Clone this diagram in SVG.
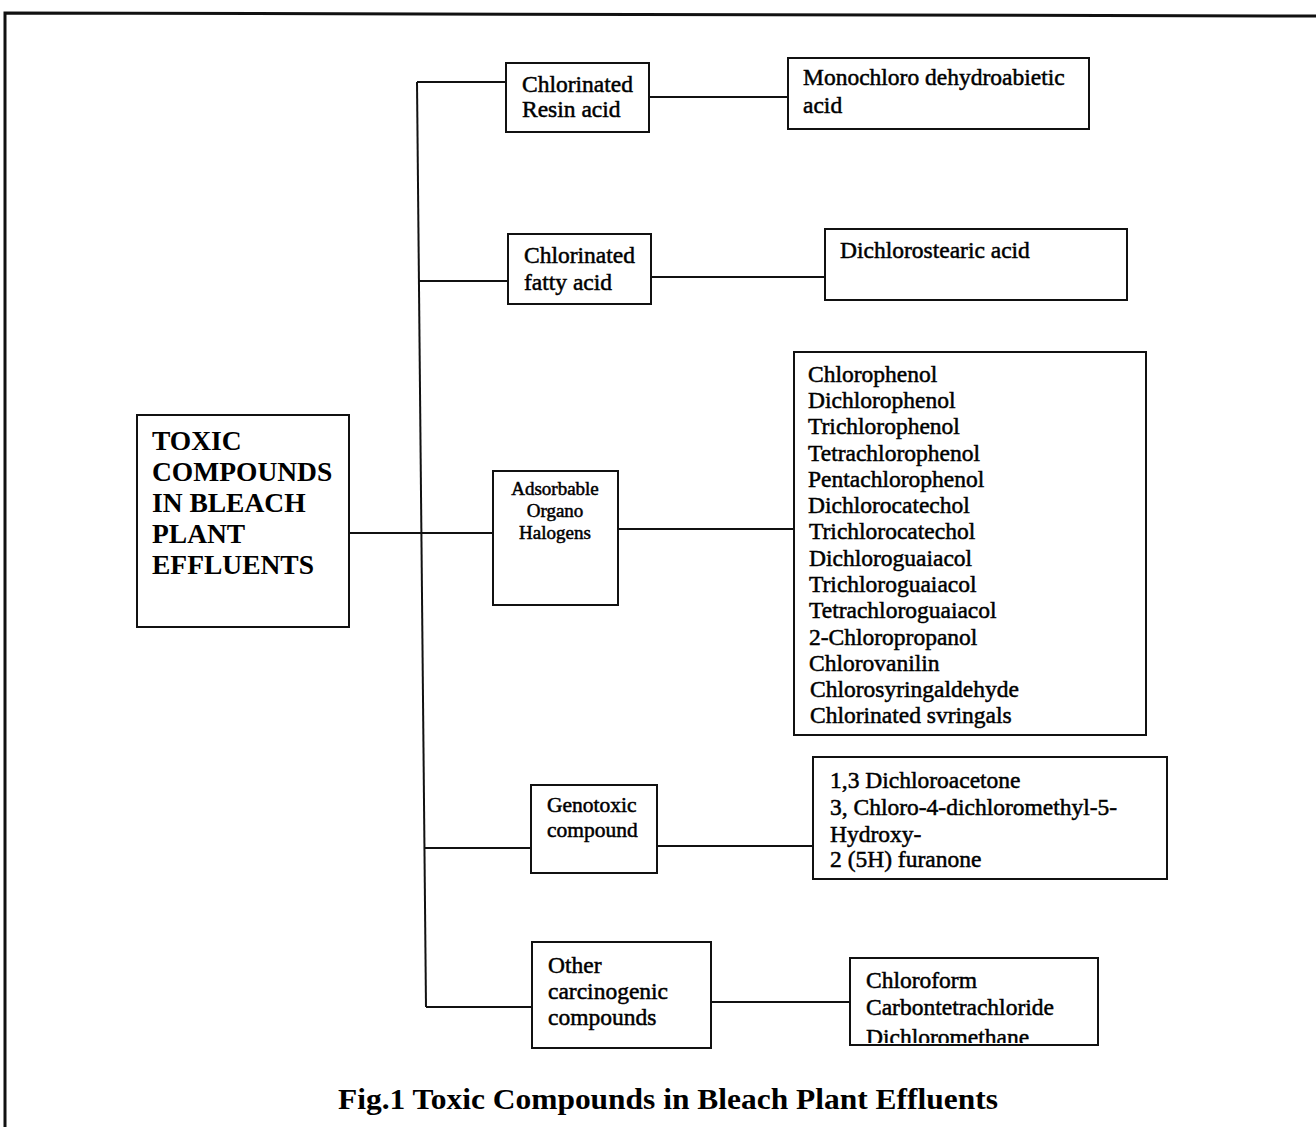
<svg xmlns="http://www.w3.org/2000/svg" width="1316" height="1127" viewBox="0 0 1316 1127">
<style>
.box{fill:#fff;stroke:#111;stroke-width:2}
.ln{fill:none;stroke:#111;stroke-width:2}
.t{font-family:"Liberation Serif","Times New Roman",serif;font-size:23.5px;fill:#000;stroke:#000;stroke-width:0.5}
.s{font-size:19px;text-anchor:middle}
.g{font-size:21.5px}
.title{font-family:"Liberation Serif","Times New Roman",serif;font-size:27.5px;font-weight:bold;fill:#000}
.cap{font-family:"Liberation Serif","Times New Roman",serif;font-size:30px;font-weight:bold;fill:#000}
</style>
<defs>
<clipPath id="clipList"><rect x="796" y="353" width="350" height="381"/></clipPath>
<clipPath id="clipChl"><rect x="851" y="959" width="246" height="84"/></clipPath>
</defs>
<rect width="1316" height="1127" fill="#fff"/>
<g id="frame">
<path d="M5,1127 L5,13 L1316,16" fill="none" stroke="#111" stroke-width="3"/>
</g>
<g id="connectors">
<line class="ln" x1="417" y1="82" x2="426" y2="1007"/>
<line class="ln" x1="417" y1="82" x2="506" y2="82"/>
<line class="ln" x1="418" y1="281" x2="508" y2="281"/>
<line class="ln" x1="349" y1="533" x2="493" y2="533"/>
<line class="ln" x1="425" y1="848" x2="531" y2="848"/>
<line class="ln" x1="426" y1="1007" x2="532" y2="1007"/>
<line class="ln" x1="649" y1="97" x2="788" y2="97"/>
<line class="ln" x1="651" y1="277" x2="825" y2="277"/>
<line class="ln" x1="618" y1="529" x2="794" y2="529"/>
<line class="ln" x1="657" y1="846" x2="813" y2="846"/>
<line class="ln" x1="711" y1="1002" x2="850" y2="1002"/>
</g>
<g id="root">
<rect class="box" x="137" y="415" width="212" height="212"/>
<text class="title" x="152" y="450">TOXIC</text>
<text class="title" x="152" y="481">COMPOUNDS</text>
<text class="title" x="152" y="512">IN BLEACH</text>
<text class="title" x="152" y="543">PLANT</text>
<text class="title" x="152" y="574">EFFLUENTS</text>
</g>
<g id="resin">
<rect class="box" x="506" y="63" width="143" height="69"/>
<text class="t" x="522" y="92">Chlorinated</text>
<text class="t" x="522" y="117">Resin acid</text>
</g>
<g id="monochloro">
<rect class="box" x="788" y="58" width="301" height="71"/>
<text class="t" x="803" y="85">Monochloro dehydroabietic</text>
<text class="t" x="803" y="113">acid</text>
</g>
<g id="fatty">
<rect class="box" x="508" y="234" width="143" height="70"/>
<text class="t" x="524" y="263">Chlorinated</text>
<text class="t" x="524" y="290">fatty acid</text>
</g>
<g id="dichlorostearic">
<rect class="box" x="825" y="229" width="302" height="71"/>
<text class="t" x="840" y="258">Dichlorostearic acid</text>
</g>
<g id="aox">
<rect class="box" x="493" y="471" width="125" height="134"/>
<text class="t s" x="555" y="495">Adsorbable</text>
<text class="t s" x="555" y="517">Organo</text>
<text class="t s" x="555" y="539">Halogens</text>
</g>
<g id="aoxlist">
<rect class="box" x="794" y="352" width="352" height="383"/>
<g clip-path="url(#clipList)">
<text class="t" x="808" y="382">Chlorophenol</text>
<text class="t" x="808" y="408">Dichlorophenol</text>
<text class="t" x="808" y="434">Trichlorophenol</text>
<text class="t" x="808" y="461">Tetrachlorophenol</text>
<text class="t" x="808" y="487">Pentachlorophenol</text>
<text class="t" x="808" y="513">Dichlorocatechol</text>
<text class="t" x="809" y="539">Trichlorocatechol</text>
<text class="t" x="809" y="566">Dichloroguaiacol</text>
<text class="t" x="809" y="592">Trichloroguaiacol</text>
<text class="t" x="809" y="618">Tetrachloroguaiacol</text>
<text class="t" x="809" y="645">2-Chloropropanol</text>
<text class="t" x="809" y="671">Chlorovanilin</text>
<text class="t" x="810" y="697">Chlorosyringaldehyde</text>
<text class="t" x="810" y="723">Chlorinated svringals</text>
</g>
</g>
<g id="genotoxic">
<rect class="box" x="531" y="785" width="126" height="88"/>
<text class="t g" x="547" y="812">Genotoxic</text>
<text class="t g" x="547" y="837">compound</text>
</g>
<g id="genolist">
<rect class="box" x="813" y="757" width="354" height="122"/>
<text class="t" x="830" y="788">1,3 Dichloroacetone</text>
<text class="t" x="830" y="815">3, Chloro-4-dichloromethyl-5-</text>
<text class="t" x="830" y="842">Hydroxy-</text>
<text class="t" x="830" y="867">2 (5H) furanone</text>
</g>
<g id="carcinogenic">
<rect class="box" x="532" y="942" width="179" height="106"/>
<text class="t" x="548" y="973">Other</text>
<text class="t" x="548" y="999">carcinogenic</text>
<text class="t" x="548" y="1025">compounds</text>
</g>
<g id="carclist">
<rect class="box" x="850" y="958" width="248" height="87"/>
<g clip-path="url(#clipChl)">
<text class="t" x="866" y="988">Chloroform</text>
<text class="t" x="866" y="1015">Carbontetrachloride</text>
<text class="t" x="866" y="1045">Dichloromethane</text>
</g>
</g>
<g id="caption">
<text class="cap" x="338" y="1109" textLength="660" lengthAdjust="spacingAndGlyphs">Fig.1 Toxic Compounds in Bleach Plant Effluents</text>
</g>
</svg>
